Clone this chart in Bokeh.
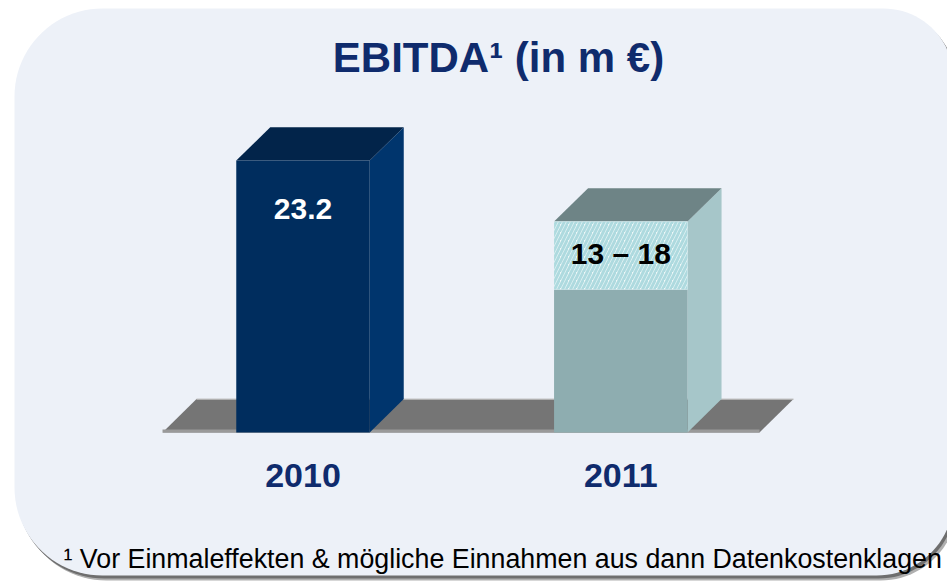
import numpy as np
from bokeh.plotting import figure
from bokeh.models import Range1d, ColumnDataSource
from bokeh.core.properties import value
from bokeh.embed import file_html
from bokeh.resources import INLINE

# ---------------- data ----------------
categories = ["2010", "2011"]
solid_values = [23.2, 12.2]      # solid (realised / lower) part of each bar
top_values = [23.2, 18.0]        # top of bar (upper end of range)
value_labels = ["23.2", "13 – 18"]
title_text = "EBITDA¹ (in m €)"
footnote_text = "¹ Vor Einmaleffekten  & mögliche Einnahmen aus dann Datenkostenklagen"

# ---------------- styles ----------------
front_colors = ["#002D5E", "#8EADB0"]
side_colors = ["#00356D", "#A6C6C9"]
topface_colors = ["#02244A", "#6E8486"]
label_colors = ["white", "black"]
label_offsets = [4.1, 2.7]       # label centre below bar top (value units)
navy = "#0F2B6D"
FONT = value("Liberation Sans")

W, H = 947, 582
PX_PER_UNIT = 11.72          # pixels per m€
PX_PER_SLOT = 317.8          # pixels between category centres
X0 = 302.5                   # pixel position of first category
BASE = 150                   # baseline pixel height from bottom
HALF_W = 0.21                # half bar width (slot units)
DX, DY = 0.107, 2.85         # 3D depth offset (slot units, value units)
FLOOR_L, FLOOR_R = -0.442, 1.4365

p = figure(width=W, height=H, output_backend="svg", toolbar_location=None,
           x_range=Range1d(-X0 / PX_PER_SLOT, (W - X0) / PX_PER_SLOT),
           y_range=Range1d(-BASE / PX_PER_UNIT, (H - BASE) / PX_PER_UNIT),
           x_axis_location=None, y_axis_location=None, min_border=0)
p.grid.visible = False
p.outline_line_color = None
p.background_fill_color = "white"
p.border_fill_color = "white"
p.extra_x_ranges = {"px": Range1d(0, W)}
p.extra_y_ranges = {"px": Range1d(H, 0)}


def rounded_rect(l, t, r, b, radii, n=24):
    tl, tr, br, bl = radii
    xs, ys = [], []
    def arc(cx, cy, rad, a0, a1):
        for a in np.linspace(a0, a1, n):
            xs.append(cx + rad * np.cos(a))
            ys.append(cy + rad * np.sin(a))
    arc(l + tl, t + tl, tl, np.pi, 1.5 * np.pi)
    arc(r - tr, t + tr, tr, 1.5 * np.pi, 2 * np.pi)
    arc(r - br, b - br, br, 0, 0.5 * np.pi)
    arc(l + bl, b - bl, bl, 0.5 * np.pi, np.pi)
    return xs, ys


radii = (88, 70, 77, 88)
PL, PT, PR, PB = 14, 8, 953, 575
sx, sy = rounded_rect(PL + 4, PT + 6, PR + 4, PB + 5, radii)
p.patch(sx, sy, fill_color="#B0B0B0", line_color=None, x_range_name="px", y_range_name="px")
sx, sy = rounded_rect(PL + 2, PT + 3, PR + 2, PB + 3, radii)
p.patch(sx, sy, fill_color="#6E6E6E", line_color=None, x_range_name="px", y_range_name="px")
px_, py_ = rounded_rect(PL, PT, PR, PB, radii)
p.patch(px_, py_, fill_color="#EDF1F8", line_color=None, x_range_name="px", y_range_name="px")

# floor
p.patch([FLOOR_L, FLOOR_L + DX, FLOOR_R + DX, FLOOR_R], [0, DY, DY, 0],
        fill_color="#757575", line_color=None)
p.line([FLOOR_L + DX, FLOOR_R + DX], [DY, DY], line_color="#C4C4C4", line_width=1.2)
p.line([FLOOR_L, FLOOR_R], [0.12, 0.12], line_color="#9A9A9A", line_width=3)

# bars
xs = np.arange(len(categories), dtype=float)
for i, xc in enumerate(xs):
    l, r = xc - HALF_W, xc + HALF_W
    v_top = top_values[i]
    v_solid = solid_values[i]
    # side face
    p.patch([r, r + DX, r + DX, r], [0, DY, v_top + DY, v_top],
            fill_color=side_colors[i], line_color=None)
    # top face
    p.patch([l, l + DX, r + DX, r], [v_top, v_top + DY, v_top + DY, v_top],
            fill_color=topface_colors[i], line_color=None)
    # front face (solid part)
    p.quad(left=[l], right=[r], bottom=[0], top=[v_solid],
           fill_color=front_colors[i], line_color=None)
    # range part (hatched)
    if v_top > v_solid:
        p.quad(left=[l], right=[r], bottom=[v_solid], top=[v_top],
               fill_color="#EFF8F8", line_color=None,
               hatch_pattern="/", hatch_color="#AEDADF", hatch_scale=8, hatch_weight=3)

# value labels
lab_src = ColumnDataSource(dict(x=list(xs),
                                y=[top_values[i] - label_offsets[i] for i in range(len(xs))],
                                text=value_labels, color=label_colors))
p.text(x="x", y="y", text="text", source=lab_src, text_color="color",
       text_font=FONT, text_font_style="bold", text_font_size=value("30px"),
       text_align="center", text_baseline="middle")

# category labels
cat_src = ColumnDataSource(dict(x=list(xs), y=[-3.65] * len(xs), text=categories))
p.text(x="x", y="y", text="text", source=cat_src, text_color=navy,
       text_font=FONT, text_font_style="bold", text_font_size=value("34px"),
       text_align="center", text_baseline="middle")

# title
p.text(x=[498], y=[57], text=[title_text], text_color=navy,
       text_font=FONT, text_font_style="bold", text_font_size=value("42px"),
       text_align="center", text_baseline="middle",
       x_range_name="px", y_range_name="px")

# footnote
p.text(x=[63], y=[558], text=[footnote_text], text_color="black",
       text_font=FONT, text_font_size=value("26.8px"),
       text_align="left", text_baseline="middle",
       x_range_name="px", y_range_name="px")

open("out.html", "w").write(file_html(p, INLINE))
